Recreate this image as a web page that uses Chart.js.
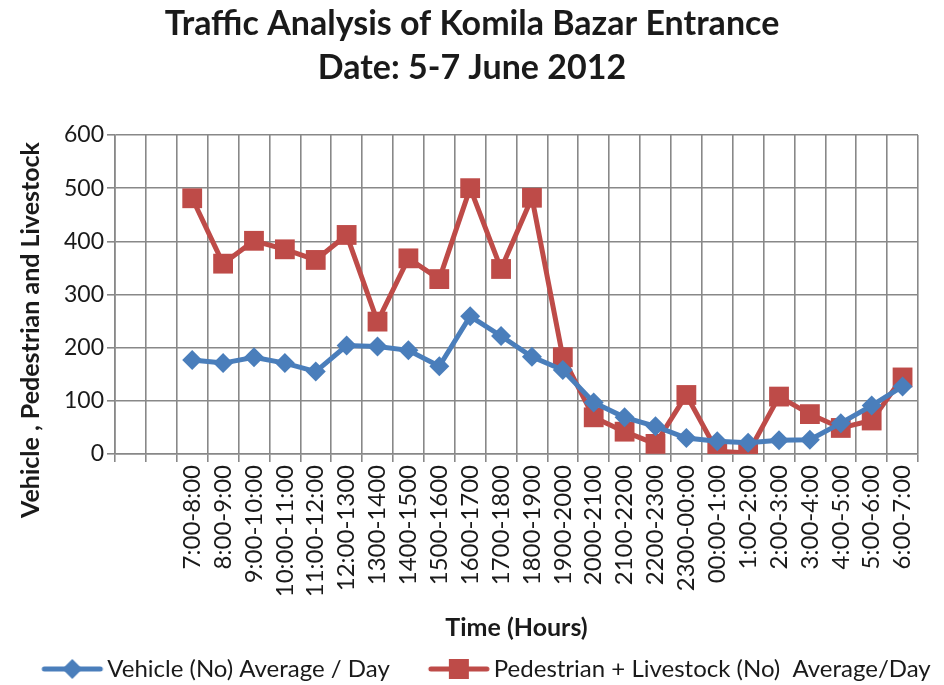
<!DOCTYPE html>
<html>
<head>
<meta charset="utf-8">
<script src="https://cdn.jsdelivr.net/npm/chart.js@4.4.1/dist/chart.umd.min.js"></script>
<style>
  html, body { margin: 0; padding: 0; background: #fff; }
  #wrap { width: 944px; height: 685px; }
</style>
</head>
<body>
<div id="wrap"><canvas id="trafficChart"></canvas></div>
<script>
// Chart data (first two hour slots are empty in the original sheet)
const timeSlots = ['', '', '7:00-8:00', '8:00-9:00', '9:00-10:00', '10:00-11:00', '11:00-12:00',
  '12:00-1300', '1300-1400', '1400-1500', '1500-1600', '1600-1700', '1700-1800', '1800-1900',
  '1900-2000', '2000-2100', '2100-2200', '2200-2300', '2300-00:00', '00:00-1:00', '1:00-2:00',
  '2:00-3:00', '3:00-4:00', '4:00-5:00', '5:00-6:00', '6:00-7:00'];
const vehicleAvg = [null, null, 177, 171, 182, 171, 155, 204, 202, 195, 165, 259, 222, 183,
  158, 97, 69, 52, 30, 24, 21, 26, 27, 58, 91, 127];
const pedestrianAvg = [null, null, 481, 358, 401, 385, 365, 412, 249, 368, 329, 500, 348, 482,
  182, 69, 42, 19, 111, 5, 2, 108, 75, 49, 63, 144];
const seriesNames = ['Vehicle (No) Average / Day', 'Pedestrian + Livestock (No)  Average/Day'];
const titleLines = ['Traffic Analysis of Komila Bazar Entrance', 'Date: 5-7 June 2012'];
const xAxisTitle = 'Time (Hours)';
const yAxisTitle = 'Vehicle , Pedestrian and Livestock';

const blue = '#4a7ebb';
const red = '#be4b48';
const gridColor = '#888888';
const textColor = '#1a1a1a';
const fontFamily = 'Lato, "Open Sans", sans-serif';

// legend icon: short line with the marker in the middle
function legendIcon(color, shape) {
  const c = document.createElement('canvas');
  c.width = 200;
  c.height = 28;
  const ctx = c.getContext('2d');
  ctx.strokeStyle = color;
  ctx.fillStyle = color;
  ctx.lineWidth = 5;
  ctx.lineCap = 'round';
  ctx.beginPath();
  ctx.moveTo(90, 14);
  ctx.lineTo(146, 14);
  ctx.stroke();
  const cx = 118, cy = 14;
  ctx.beginPath();
  if (shape === 'diamond') {
    ctx.moveTo(cx - 10, cy);
    ctx.lineTo(cx, cy - 10);
    ctx.lineTo(cx + 10, cy);
    ctx.lineTo(cx, cy + 10);
  } else {
    ctx.rect(cx - 10, cy - 10, 20, 20);
  }
  ctx.closePath();
  ctx.fill();
  return c;
}
const legendIcons = [legendIcon(blue, 'diamond'), legendIcon(red, 'square')];

// rotated y axis title, placed like the original
const yTitlePlugin = {
  id: 'yTitle',
  afterDraw(chart) {
    const ctx = chart.ctx;
    ctx.save();
    ctx.translate(31, 330);
    ctx.rotate(-Math.PI / 2);
    ctx.font = 'bold 25px ' + fontFamily;
    ctx.fillStyle = textColor;
    ctx.textAlign = 'center';
    ctx.textBaseline = 'middle';
    ctx.fillText(yAxisTitle, 0, 0);
    ctx.restore();
  }
};

const ctx = document.getElementById('trafficChart').getContext('2d');
new Chart(ctx, {
  type: 'line',
  data: {
    labels: timeSlots,
    datasets: [{
      label: seriesNames[0],
      data: vehicleAvg,
      borderColor: blue,
      backgroundColor: blue,
      borderWidth: 5,
      pointStyle: 'rectRot',
      pointRadius: 10,
      pointBorderWidth: 0,
      tension: 0
    }, {
      label: seriesNames[1],
      data: pedestrianAvg,
      borderColor: red,
      backgroundColor: red,
      borderWidth: 5,
      pointStyle: 'rect',
      pointRadius: 14,
      pointBorderWidth: 0,
      tension: 0
    }]
  },
  options: {
    responsive: true,
    maintainAspectRatio: false,
    animation: false,
    layout: { padding: { left: 0, right: 0, top: 0, bottom: -6 } },
    plugins: {
      title: {
        display: true,
        text: titleLines,
        color: textColor,
        font: { family: fontFamily, size: 34, weight: 'bold', lineHeight: 1.3 },
        padding: { top: 2, bottom: 44.6 }
      },
      legend: {
        position: 'bottom',
        labels: {
          usePointStyle: true,
          pointStyleWidth: 82,
          padding: 10,
          color: textColor,
          font: { family: fontFamily, size: 24 },
          generateLabels(chart) {
            const items = Chart.defaults.plugins.legend.labels.generateLabels(chart);
            items.forEach((item, i) => { item.pointStyle = legendIcons[i]; });
            return items;
          }
        }
      },
      tooltip: { enabled: false }
    },
    scales: {
      x: {
        offset: true,
        grid: { offset: true, color: gridColor, lineWidth: 1.6, tickLength: 8 },
        border: { color: gridColor, width: 1.6 },
        ticks: {
          autoSkip: false,
          minRotation: 90,
          maxRotation: 90,
          padding: 3,
          color: textColor,
          font: { family: fontFamily, size: 24 }
        },
        title: {
          display: true,
          text: xAxisTitle,
          color: textColor,
          font: { family: fontFamily, size: 25, weight: 'bold' },
          padding: { top: 0, bottom: 4 }
        },
        afterFit(scale) { scale.height = 193; }
      },
      y: {
        min: 0,
        max: 600,
        ticks: {
          stepSize: 100,
          padding: 3,
          color: textColor,
          font: { family: fontFamily, size: 23 }
        },
        grid: { color: gridColor, lineWidth: 1.6, tickLength: 8 },
        border: { color: gridColor, width: 1.6 },
        afterFit(scale) { scale.width = 115; }
      },
      yRight: {
        position: 'right',
        display: true,
        grid: { display: false },
        border: { display: false },
        ticks: { display: false },
        afterFit(scale) { scale.width = 26; }
      }
    }
  },
  plugins: [yTitlePlugin]
});
</script>
</body>
</html>
